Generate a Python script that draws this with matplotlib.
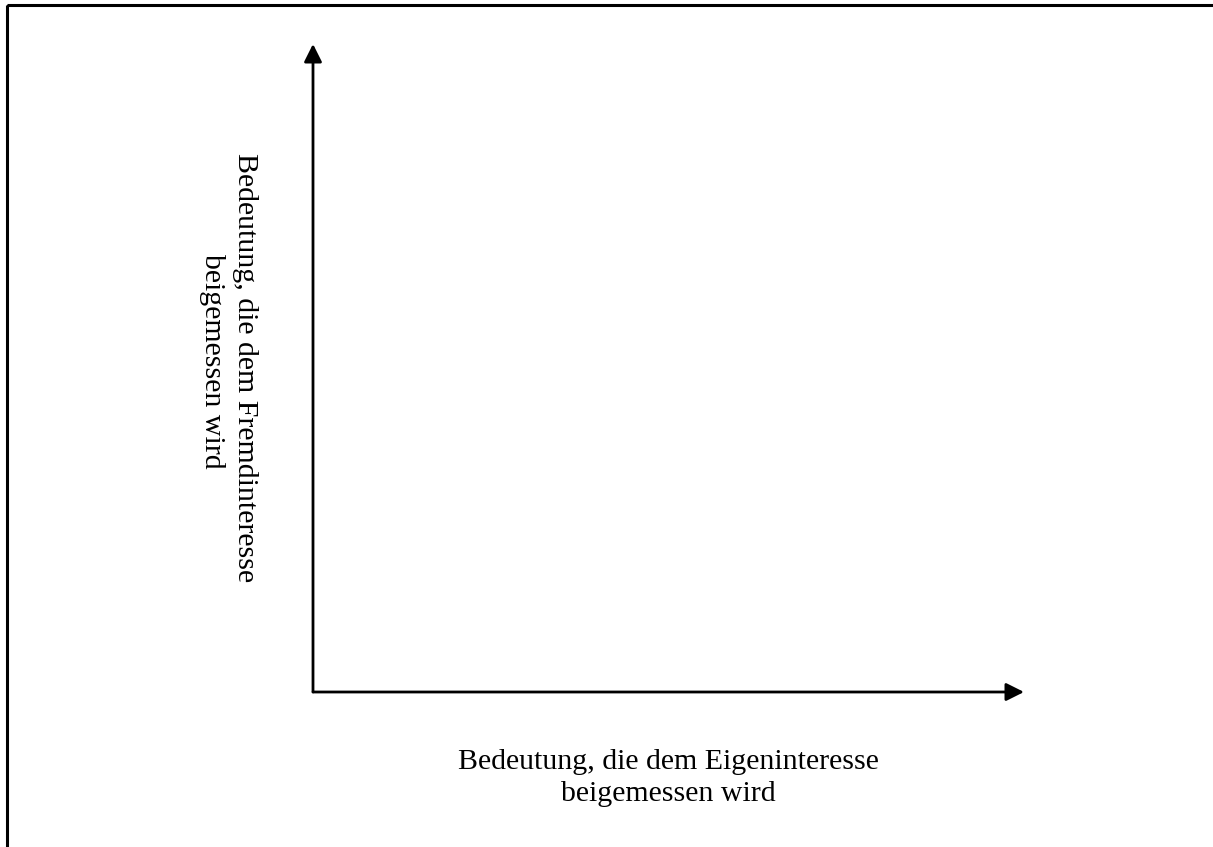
import matplotlib.pyplot as plt
from matplotlib.patches import Rectangle

plt.rcParams['font.family'] = ['Liberation Serif', 'DejaVu Serif']

x_label = ['Bedeutung, die dem Eigeninteresse', 'beigemessen wird']
y_label = ['Bedeutung, die dem Fremdinteresse', 'beigemessen wird']

W, H = 1213, 847
origin = (313, 692)
y_tip = (313, 44)
x_tip = (1024, 692)

fig = plt.figure(figsize=(W / 100, H / 100), dpi=100)
ax = fig.add_axes([0, 0, 1, 1])
ax.set_xlim(0, W)
ax.set_ylim(H, 0)
ax.axis('off')

# frame round the figure (right and bottom run off the page)
ax.add_patch(Rectangle((6.5, 5.5), W + 20, H + 20, fill=False, lw=2.2, ec='black'))

arrow = dict(arrowstyle='-|>', lw=2, color='black', mutation_scale=27,
             shrinkA=0, shrinkB=0)
ax.annotate('', xy=y_tip, xytext=origin, arrowprops=arrow)
ax.annotate('', xy=x_tip, xytext=origin, arrowprops=arrow)

# labels, one line at a time
for i, line in enumerate(x_label):
    ax.text(668, 762 + 32 * i, line, ha='center', va='center', fontsize=21.5)
for i, (line, yc) in enumerate(zip(y_label, [368, 361])):
    ax.text(245 - 33 * i, yc, line, ha='center', va='center', fontsize=21.5,
            rotation=-90)

fig.savefig('out.png', dpi=100)
